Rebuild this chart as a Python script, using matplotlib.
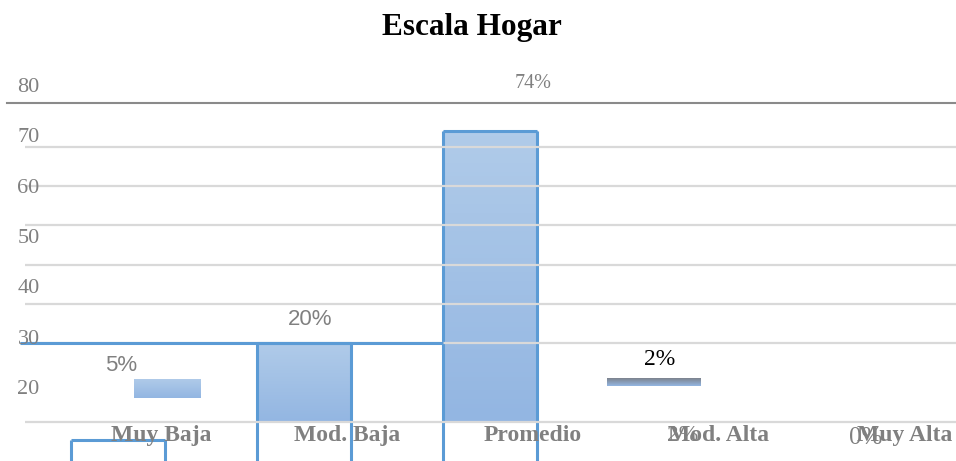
import numpy as np
import matplotlib
matplotlib.use("Agg")
import matplotlib.pyplot as plt
from matplotlib.colors import LinearSegmentedColormap

# datos
categorias = ["Muy Baja", "Mod. Baja", "Promedio", "Mod. Alta", "Muy Alta"]
porcentajes = [5, 20, 74, 2, 0]
etiquetas_y = [20, 30, 40, 50, 60, 70, 80]
lineas_grid = [0, 20, 30, 40, 50, 60, 70]

AZUL = "#5b9bd5"
GRIS = "#808080"
SERIF = ["Liberation Serif", "DejaVu Serif"]
SANS = ["Liberation Sans", "DejaVu Sans"]

# el grafico original sale "descuadrado": desplazamientos del relleno / borde
relleno_dx = [0.266, 0.0, 0.0, -0.121, 0.0]
relleno_base = [5.97, 0.0, 0.0, 9.2, 0.0]
relleno_ancho = [0.36, 0.5, 0.51, 0.5, 0.5]
relleno_tope = ["#b0cbe9", "#b0cbe9", "#b0cbe9", "#7d838e", "#b0cbe9"]
caida_borde = [9.6, 0.0, 0.0, None, None]
ANCHO_BORDE = 0.505

# etiquetas de valor: (texto, desplazamiento px, familia, color, tamano)
etq_valor = [
    [("5%", 3, 37, SANS, GRIS, 16)],
    [("20%", 6, 24, SANS, GRIS, 16)],
    [("74%", 43, 48, SERIF, GRIS, 14.5)],
    [("2%", -16, 54, SERIF, "black", 17), ("2%", 7, -22, SERIF, GRIS, 17)],
    [("0%", 4, -16, SERIF, GRIS, 18)],
]

Y0, Y1 = -10.0, 81.4
X0, X1 = -0.5, 4.505

fig = plt.figure(figsize=(9.56, 4.61), dpi=100)
ax = fig.add_axes([25 / 956, 0, 931 / 956, 359 / 461])
ax.set_xlim(X0, X1)
ax.set_ylim(Y0, Y1)
for s in ax.spines.values():
    s.set_visible(False)
ax.set_xticks([])
ax.set_yticks(lineas_grid)
ax.tick_params(axis="y", length=0, labelleft=False)
ax.set_axisbelow(False)
ax.yaxis.grid(True, color="#d9d9d9", lw=1.6, zorder=2.5)
# linea superior oscura
ax.axhline(81.1, xmin=-18 / 931, xmax=1, color="#8a8a8a", lw=1.5, clip_on=False)

x = np.arange(len(categorias))
grad = np.linspace(0, 1, 64).reshape(-1, 1)
for i, v in enumerate(porcentajes):
    if v <= 0:
        continue
    rect = ax.bar(x[i] + relleno_dx[i], v, width=relleno_ancho[i], bottom=relleno_base[i],
                  facecolor="none", edgecolor="none")[0]
    cmap = LinearSegmentedColormap.from_list("b%d" % i, ["#93b6e2", relleno_tope[i]])
    xa, ya = rect.get_xy()
    im = ax.imshow(grad, extent=[xa, xa + rect.get_width(), ya, ya + rect.get_height()],
                   origin="lower", cmap=cmap, aspect="auto", zorder=1)
    im.set_clip_path(rect)

# bordes azules (se prolongan hacia abajo)
for i, (v, caida) in enumerate(zip(porcentajes, caida_borde)):
    if caida is None:
        continue
    tope = v - caida
    xa, xb = x[i] - ANCHO_BORDE / 2, x[i] + ANCHO_BORDE / 2
    ax.vlines([xa, xb], Y0, tope, colors=AZUL, lw=2.2, zorder=2)
    ax.hlines(tope, xa, xb, colors=AZUL, lw=2.2, zorder=3)
ax.hlines(porcentajes[1], X0 - 0.027, x[2] - ANCHO_BORDE / 2, colors=AZUL, lw=2.2,
          zorder=3, clip_on=False)

ax.set_xlim(X0, X1)
ax.set_ylim(Y0, Y1)

for i, lista in enumerate(etq_valor):
    for txt, dx, dy, fam, col, fs in lista:
        ax.annotate(txt, (x[i], porcentajes[i]), xytext=(dx, dy), textcoords="offset pixels",
                    ha="center", va="center", family=fam, color=col, fontsize=fs, zorder=5)

for i, c in enumerate(categorias):
    ax.text(x[i] + 0.23, -3.57, c, ha="center", va="center", family=SERIF,
            fontweight="bold", color=GRIS, fontsize=17, zorder=5)

# eje de etiquetas (escala propia, como en el original)
lax = fig.add_axes([41 / 956, 0, 0.001, 401 / 461])
lax.set_ylim(5.30, 84.97)
lax.set_frame_on(False)
lax.set_xticks([])
lax.set_yticks(etiquetas_y)
lax.set_yticklabels([str(e) for e in etiquetas_y], family=SERIF, color=GRIS, fontsize=16)
lax.tick_params(axis="y", length=0, pad=1)

fig.text(472 / 956, 1 - 28 / 461, "Escala Hogar", ha="center", va="center",
         family=SERIF, fontweight="bold", fontsize=22.5)

fig.savefig("out.png", dpi=100)
